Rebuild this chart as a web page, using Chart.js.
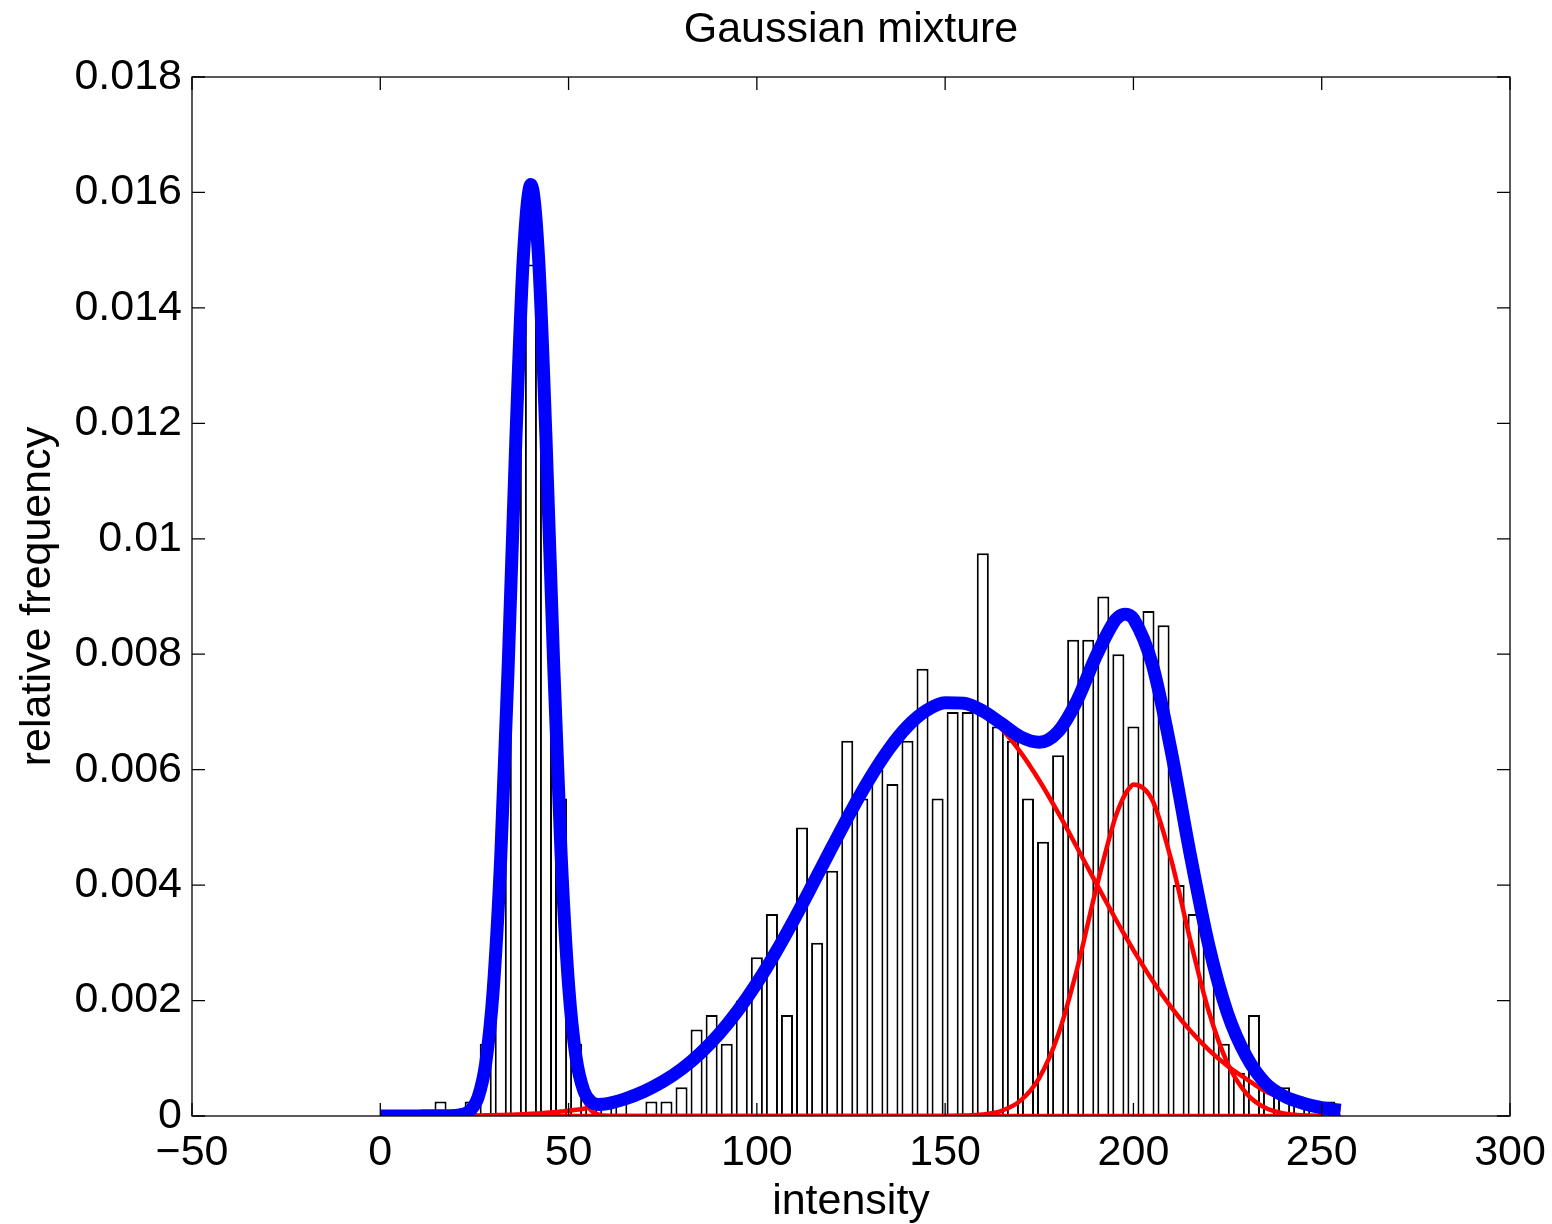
<!DOCTYPE html>
<html>
<head>
<meta charset="utf-8">
<title>Gaussian mixture</title>
<script src="https://cdn.jsdelivr.net/npm/chart.js@4.4.1/dist/chart.umd.min.js"></script>
<style>
  html, body { margin: 0; padding: 0; background: #fff; }
  canvas { display: block; }
</style>
</head>
<body>
<canvas id="grafico" width="1552" height="1224"></canvas>
<script>
// histogram: bin centres (intensity) and relative frequency
const binCenters = [0, 4, 8, 12, 16, 20, 24, 28, 32, 36, 40, 44, 48, 52, 56, 60,
  64, 68, 72, 76, 80, 84, 88, 92, 96, 100, 104, 108, 112, 116, 120, 124,
  128, 132, 136, 140, 144, 148, 152, 156, 160, 164, 168, 172, 176, 180, 184, 188,
  192, 196, 200, 204, 208, 212, 216, 220, 224, 228, 232, 236, 240, 244, 248, 252];
const relFreq = [0, 0, 0, 0, 0.00025, 0, 0.00025, 0.00125, 0.0045, 0.0115, 0.01475, 0.0115, 0.0055, 0.00125, 0.00025, 0.00025,
  0.00025, 0, 0.00025, 0.00025, 0.0005, 0.0015, 0.00175, 0.00125, 0.002, 0.00275, 0.0035, 0.00175, 0.005, 0.003, 0.00425, 0.0065,
  0.0055, 0.006, 0.00575, 0.0065, 0.00775, 0.0055, 0.007, 0.007, 0.00975, 0.00675, 0.0065, 0.0055, 0.00475, 0.00625, 0.00825, 0.00825,
  0.009, 0.008, 0.00675, 0.00875, 0.0085, 0.004, 0.0035, 0.003, 0.00125, 0.00075, 0.00175, 0.0005, 0.0005, 0.00025, 0.00025, 0.00025];

// fitted curves read along intensity
const curveX = [0, 10, 20, 22, 24, 26, 28, 30, 32, 34, 36, 38, 40, 42, 44, 46, 48, 50, 52, 54, 56, 58, 60,
  65, 70, 75, 80, 85, 90, 95, 100, 105, 110, 115, 120, 125, 130, 135, 140, 145, 150, 155, 160,
  165, 170, 175, 180, 185, 190, 195, 196, 197, 198, 199, 200, 205, 210, 215, 220, 225, 230, 235, 240, 245, 250, 255];
const mixtureY = [0, 0.000002, 0.00001, 0.000031, 0.000104, 0.000329, 0.000915, 0.002194, 0.004497, 0.00786, 0.011715, 0.01489, 0.016137,
  0.014905, 0.011745, 0.007906, 0.004558, 0.002271, 0.001011, 0.000446, 0.000245, 0.0002, 0.00021,
  0.000298, 0.000425, 0.000594, 0.000812, 0.001088, 0.001426, 0.001831, 0.002302, 0.002835, 0.003417, 0.004035, 0.004663,
  0.005279, 0.00585, 0.00635, 0.00675, 0.007024, 0.007159, 0.00715, 0.007017,
  0.006796, 0.006571, 0.006475, 0.006659, 0.007194, 0.007954, 0.008576, 0.008643, 0.008684, 0.008693, 0.008672, 0.008616,
  0.007825, 0.006332, 0.004561, 0.00296, 0.001778, 0.001032, 0.000572, 0.000344, 0.000222, 0.000143, 0.0001];
const comp1Y = [0, 0, 0.000005, 0.000025, 0.000096, 0.000319, 0.000904, 0.00218, 0.00448, 0.00784, 0.01169, 0.01486, 0.0161,
  0.01486, 0.01169, 0.00784, 0.00448, 0.00218, 0.000904, 0.000319, 0.000096, 0.000025, 0.000005,
  0, 0, 0, 0, 0, 0, 0, 0, 0, 0, 0, 0, 0, 0, 0, 0, 0, 0, 0, 0,
  0, 0, 0, 0, 0, 0, 0, 0, 0, 0, 0, 0,
  0, 0, 0, 0, 0, 0, 0, 0, 0, 0, 0];
const comp2Y = [0, 0.000002, 0.000005, 0.000006, 0.000008, 0.00001, 0.000011, 0.000014, 0.000017, 0.00002, 0.000025, 0.00003, 0.000037,
  0.000045, 0.000055, 0.000066, 0.000078, 0.000091, 0.000107, 0.000127, 0.000149, 0.000175, 0.000205,
  0.000298, 0.000425, 0.000594, 0.000812, 0.001088, 0.001426, 0.001831, 0.002302, 0.002835, 0.003417, 0.004035, 0.004663,
  0.005279, 0.00585, 0.00635, 0.00675, 0.007024, 0.007158, 0.007143, 0.00699,
  0.006705, 0.006305, 0.005813, 0.005254, 0.004655, 0.004043, 0.003443, 0.003326, 0.003211, 0.003097, 0.002985, 0.002874,
  0.002352, 0.001887, 0.001485, 0.001145, 0.000866, 0.000641, 0.00043, 0.0003, 0.00021, 0.00014, 0.0001];
const comp3Y = [0, 0, 0, 0, 0, 0, 0, 0, 0, 0, 0, 0, 0,
  0, 0, 0, 0, 0, 0, 0, 0, 0, 0,
  0, 0, 0, 0, 0, 0, 0, 0, 0, 0, 0, 0, 0, 0, 0, 0, 0, 0.000001, 0.000007, 0.000027,
  0.000091, 0.000266, 0.000662, 0.001405, 0.002539, 0.003911, 0.005133, 0.005317, 0.005473, 0.005596, 0.005687, 0.005742,
  0.005473, 0.004445, 0.003076, 0.001815, 0.000912, 0.000391, 0.000142, 0.000044, 0.000012, 0.000003, 0];

const xTickValues = [-50, 0, 50, 100, 150, 200, 250, 300];
const yTickValues = [0, 0.002, 0.004, 0.006, 0.008, 0.01, 0.012, 0.014, 0.016, 0.018];

const fuente = "'Liberation Sans', Arial, Helvetica, sans-serif";
Chart.defaults.font.family = fuente;
Chart.defaults.color = '#000';

const aPuntos = ys => curveX.map((x, i) => ({ x, y: ys[i] }));

function curva(ys, color, ancho, orden) {
  return {
    type: 'line',
    data: aPuntos(ys),
    borderColor: color,
    borderWidth: ancho,
    pointRadius: 0,
    cubicInterpolationMode: 'monotone',
    borderJoinStyle: 'round',
    clip: 0,
    order: orden
  };
}

// box round the plot, ticks pointing inwards on all four sides
const cajaEjes = {
  id: 'cajaEjes',
  afterLayout(chart) {
    // centre the title over the plot area, not the whole canvas
    const t = chart.titleBlock;
    if (t) {
      t.left = chart.chartArea.left;
      t.right = chart.chartArea.right;
      t.width = t.right - t.left;
    }
  },
  afterDatasetsDraw(chart) {
    const { ctx, chartArea: a, scales: { x, y } } = chart;
    const tl = 13;
    ctx.save();
    ctx.strokeStyle = '#000';
    ctx.lineWidth = 1.3;
    ctx.beginPath();
    xTickValues.forEach(v => {
      const px = x.getPixelForValue(v);
      ctx.moveTo(px, a.bottom); ctx.lineTo(px, a.bottom - tl);
      ctx.moveTo(px, a.top); ctx.lineTo(px, a.top + tl);
    });
    yTickValues.forEach(v => {
      const py = y.getPixelForValue(v);
      ctx.moveTo(a.left, py); ctx.lineTo(a.left + tl, py);
      ctx.moveTo(a.right, py); ctx.lineTo(a.right - tl, py);
    });
    ctx.stroke();
    ctx.strokeRect(a.left, a.top, a.right - a.left, a.bottom - a.top);
    ctx.restore();
  }
};

new Chart(document.getElementById('grafico'), {
  type: 'bar',
  data: {
    datasets: [
      curva(mixtureY, '#0000ff', 13, 0),
      curva(comp1Y, '#ff0000', 4.5, 1),
      curva(comp2Y, '#ff0000', 4.5, 1),
      curva(comp3Y, '#ff0000', 4.5, 1),
      {
        type: 'bar',
        data: binCenters.map((x, i) => ({ x, y: relFreq[i] })),
        backgroundColor: '#ffffff',
        borderColor: '#000000',
        borderWidth: 2,
        borderSkipped: false,
        barPercentage: 0.8,
        categoryPercentage: 1,
        order: 2
      }
    ]
  },
  options: {
    responsive: false,
    animation: false,
    devicePixelRatio: 1,
    layout: { padding: { left: 0, right: 42, top: 0, bottom: 0 } },
    plugins: {
      legend: { display: false },
      tooltip: { enabled: false },
      title: {
        display: true,
        text: 'Gaussian mixture',
        color: '#000',
        font: { size: 43, weight: 'normal' },
        padding: { top: 4, bottom: 21.4 }
      }
    },
    scales: {
      x: {
        type: 'linear',
        min: -50,
        max: 300,
        offset: false,
        grid: { display: false, drawTicks: false },
        border: { display: false },
        afterBuildTicks: s => { s.ticks = xTickValues.map(value => ({ value })); },
        afterFit: s => { s.height = 108; s.paddingLeft = 0; s.paddingRight = 0; },
        ticks: {
          font: { size: 43 },
          padding: 11,
          maxRotation: 0,
          autoSkip: false,
          callback: v => (v < 0 ? '\u2212' + Math.abs(v) : String(v))
        },
        title: {
          display: true,
          text: 'intensity',
          font: { size: 43 },
          padding: { top: 0, bottom: -4 }
        }
      },
      y: {
        min: 0,
        max: 0.018,
        grid: { display: false, drawTicks: false },
        border: { display: false },
        afterBuildTicks: s => { s.ticks = yTickValues.map(value => ({ value })); },
        afterFit: s => { s.width = 192; s.paddingTop = 0; s.paddingBottom = 0; },
        ticks: {
          font: { size: 43 },
          padding: 10,
          autoSkip: false,
          callback: v => (v === 0 ? '0' : String(+v.toFixed(3)))
        },
        title: {
          display: true,
          text: 'relative frequency',
          font: { size: 43 },
          padding: { top: 12.2, bottom: 0 }
        }
      }
    }
  },
  plugins: [cajaEjes]
});
</script>
</body>
</html>
